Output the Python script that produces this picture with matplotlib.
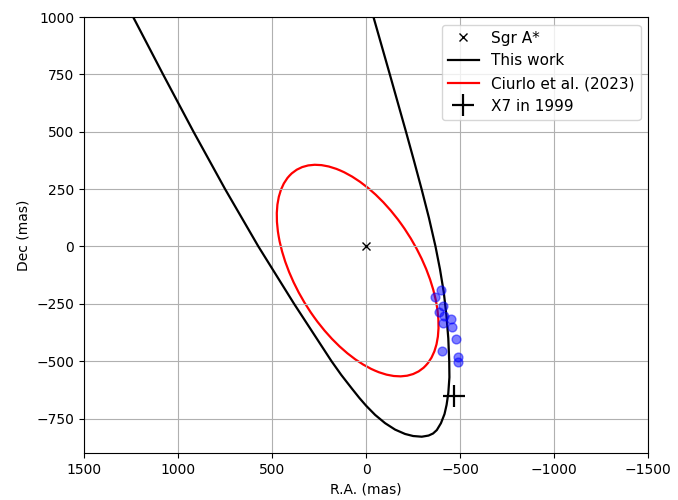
import matplotlib
matplotlib.use("Agg")
import matplotlib.pyplot as plt
from matplotlib.patches import Ellipse

# orbit from this work (R.A., Dec in mas)
orbit_ra = [1239, 1080, 918, 750, 573, 383, 184, 132, 75, 36, 0, -48, -101,
            -154, -207, -250, -296, -332, -356, -376, -398, -417, -428,
            -437, -443, -442, -437, -427, -413, -393, -369, -334, -295,
            -254, -212, -126, -39]
orbit_dec = [1000, 750, 500, 250, 0, -250, -500, -560, -620, -660, -694, -734, -770,
             -798, -817, -826, -829, -824, -815, -800, -770, -730, -690,
             -640, -570, -500, -400, -300, -200, -100, 0, 125, 250,
             375, 500, 750, 1000]

# Ciurlo et al. (2023) projected orbit: centre, full axes, angle
ciurlo_center = (45, -105)
ciurlo_width = 1100
ciurlo_height = 616
ciurlo_angle = 48.8

# observed positions
obs_ra = [-397, -367, -408, -390, -415, -411, -450, -456, -479, -406, -486, -486]
obs_dec = [-191, -220, -261, -287, -305, -334, -316, -351, -403, -457, -482, -505]

x7_1999 = (-470, -650)

fig, ax = plt.subplots(figsize=(6.78, 5.0), dpi=100)
fig.subplots_adjust(left=0.124, right=0.956, top=0.966, bottom=0.094)

ax.plot([0], [0], 'x', color='black', label='Sgr A*')
ax.plot(orbit_ra, orbit_dec, color='black', lw=1.6, label='This work')

ell = Ellipse(ciurlo_center, ciurlo_width, ciurlo_height, angle=ciurlo_angle,
              fill=False, edgecolor='red', lw=1.6)
ax.add_patch(ell)
ax.plot([], [], color='red', lw=1.6, label='Ciurlo et al. (2023)')

ax.scatter(obs_ra, obs_dec, color='blue', alpha=0.5, s=40, zorder=3)
ax.plot([x7_1999[0]], [x7_1999[1]], '+', color='black', markersize=16,
        mew=1.6, label='X7 in 1999')

ax.set_xlim(1500, -1500)
ax.set_ylim(-900, 1000)
ax.set_xlabel('R.A. (mas)')
ax.set_ylabel('Dec (mas)')
ax.grid(True)
ax.legend(loc='upper right', fontsize=11)

plt.savefig('out.png', dpi=100)
